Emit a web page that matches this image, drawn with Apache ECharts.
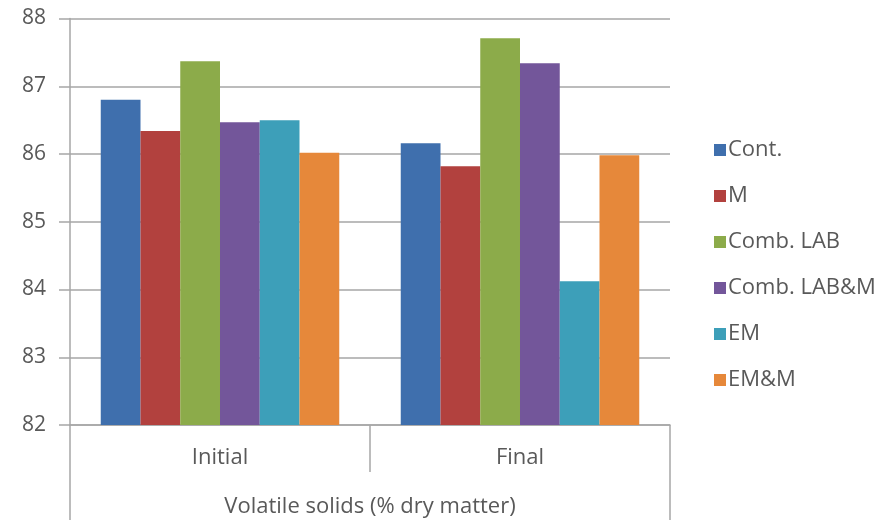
<!DOCTYPE html>
<html>
<head>
<meta charset="utf-8">
<script src="https://cdn.jsdelivr.net/npm/echarts@6/dist/echarts.min.js"></script>
<style>
  html, body { margin: 0; padding: 0; background: #fff; }
  #chart { width: 893px; height: 520px; }
</style>
</head>
<body>
<div id="chart"></div>
<script>
// Volatile solids content at the start and end of the trial, per treatment
const stages = ['Initial', 'Final'];
const groupTitle = ['Volatile solids (% dry matter)'];
const treatments = ['Cont.', 'M', 'Comb. LAB', 'Comb. LAB&M', 'EM', 'EM&M'];
const contValues = [86.80, 86.16];
const mValues = [86.34, 85.82];
const combLabValues = [87.37, 87.71];
const combLabMValues = [86.47, 87.34];
const emValues = [86.50, 84.12];
const emMValues = [86.02, 85.98];
const yTicks = { min: 82, max: 88, step: 1 };

const seriesValues = [contValues, mValues, combLabValues, combLabMValues, emValues, emMValues];
const palette = ['#3f6fad', '#b2413e', '#8cab4a', '#73569a', '#3d9fb9', '#e6883a'];

const fontFamily = '"Open Sans", "Liberation Sans", sans-serif';
const textColor = '#595959';
const lineColor = '#a6a6a6';

const chart = echarts.init(document.getElementById('chart'), null, { renderer: 'canvas' });

chart.setOption({
  animation: false,
  color: palette,
  grid: { left: 70, right: 223, top: 18.5, bottom: 95, containLabel: false },
  legend: {
    orient: 'vertical',
    left: 709,
    top: 134,
    itemWidth: 12,
    itemHeight: 12,
    itemGap: 24,
    icon: 'rect',
    textStyle: { fontFamily, fontSize: 22, color: textColor, padding: [0, 0, 0, -3] },
    data: treatments
  },
  xAxis: [
    {
      type: 'category',
      data: stages,
      position: 'bottom',
      axisLine: { show: true, lineStyle: { color: lineColor, width: 1.5 } },
      axisTick: { show: true, length: 47, alignWithLabel: false, interval: 0, lineStyle: { color: lineColor, width: 1.5 } },
      axisLabel: { fontFamily, fontSize: 22, color: textColor, margin: 22 }
    },
    {
      type: 'category',
      data: groupTitle,
      position: 'bottom',
      offset: 47,
      axisLine: { show: false },
      axisTick: { show: true, length: 50, alignWithLabel: false, interval: 0, lineStyle: { color: lineColor, width: 1.5 } },
      axisLabel: { fontFamily, fontSize: 22, color: textColor, margin: 24 }
    }
  ],
  yAxis: {
    type: 'value',
    min: yTicks.min,
    max: yTicks.max,
    interval: yTicks.step,
    axisLine: { show: true, lineStyle: { color: lineColor, width: 1.5 } },
    axisTick: { show: true, length: 11, lineStyle: { color: lineColor, width: 1.5 } },
    splitLine: { show: true, lineStyle: { color: lineColor, width: 1.5 } },
    axisLabel: { fontFamily, fontSize: 21, color: textColor, margin: 24 }
  },
  series: treatments.map((name, i) => ({
    name,
    type: 'bar',
    xAxisIndex: 0,
    data: seriesValues[i],
    barGap: '0%',
    barCategoryGap: '20.5%',
    itemStyle: { color: palette[i] }
  }))
});
</script>
</body>
</html>
